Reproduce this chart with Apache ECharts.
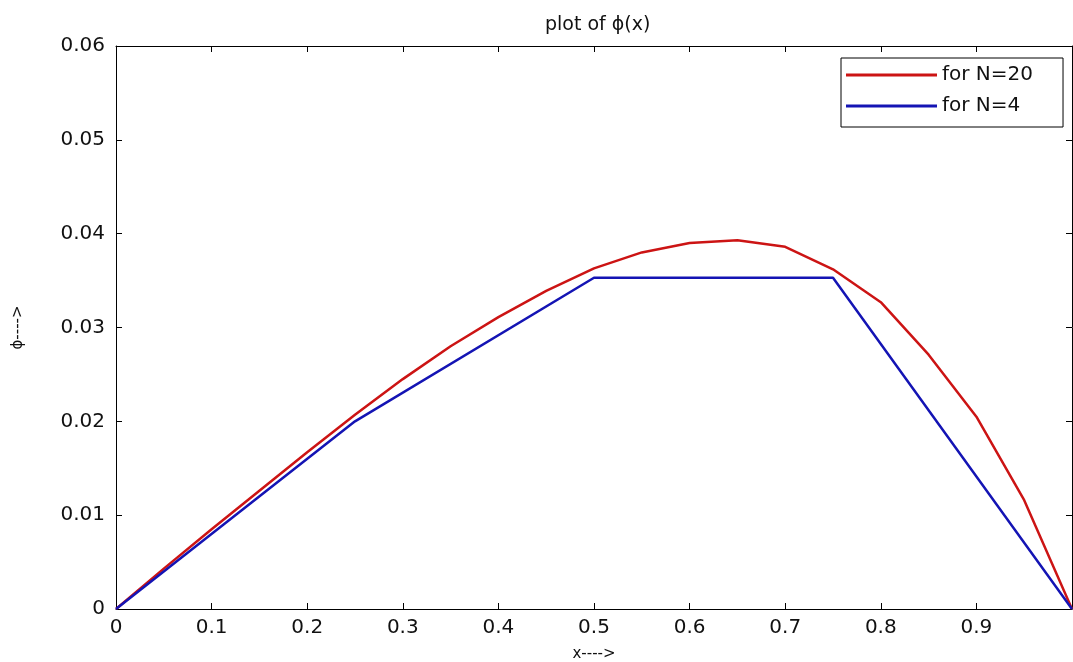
<!DOCTYPE html>
<html>
<head>
<meta charset="utf-8">
<script src="https://cdn.jsdelivr.net/npm/echarts@6/dist/echarts.min.js"></script>
<style>html,body{margin:0;padding:0;background:#fff}#chart{width:1073px;height:662px}</style>
</head>
<body>
<div id="chart"></div>
<script>
// phi(x) for N=20 (step 0.05) and N=4 (step 0.25)
const xN20 = [0, 0.05, 0.1, 0.15, 0.2, 0.25, 0.3, 0.35, 0.4, 0.45, 0.5, 0.55, 0.6, 0.65, 0.7, 0.75, 0.8, 0.85, 0.9, 0.95, 1]
const yN20 = [0, 0.0043, 0.0085, 0.0126, 0.0167, 0.0207, 0.0245, 0.0280, 0.0311, 0.0339, 0.0363, 0.0380, 0.0390, 0.0393, 0.0386, 0.0362, 0.0327, 0.0271, 0.0205, 0.0116, 0]
const xN4 = [0, 0.25, 0.5, 0.75, 1]
const yN4 = [0, 0.0200, 0.0353, 0.0353, 0]
const seriesNames = ['for N=20', 'for N=4']

const font = 'DejaVu Sans'
const chart = echarts.init(document.getElementById('chart'))
const pairs = (xs, ys) => xs.map((x, i) => [x, ys[i]])
const frameAxis = { show: true, onZero: false, lineStyle: { color: '#000', width: 1 } }
const inTick = { show: true, inside: true, length: 6, lineStyle: { color: '#000' } }

chart.setOption({
  animation: false,
  backgroundColor: '#fff',
  title: {
    text: 'plot of ϕ(x)', left: 540, top: 11,
    textStyle: { fontFamily: font, fontSize: 19, fontWeight: 'normal', color: '#111' }
  },
  grid: { left: 116, right: 1, top: 46, bottom: 53, outerBoundsMode: 'none' },
  legend: {
    orient: 'vertical', left: 841, top: 58,
    data: seriesNames,
    icon: 'rect', itemWidth: 91, itemHeight: 3, itemGap: 11, itemTextGap: 7,
    padding: [7, 30, 11, 5],
    borderColor: '#000', borderWidth: 1, backgroundColor: '#fff',
    textStyle: { fontFamily: font, fontSize: 20, color: '#111', lineHeight: 20 }
  },
  xAxis: [{
    type: 'value', min: 0, max: 1, interval: 0.1,
    name: 'x---->', nameLocation: 'middle', nameGap: 38,
    nameTextStyle: { fontFamily: font, fontSize: 15, color: '#111' },
    axisLine: frameAxis, axisTick: inTick, splitLine: { show: false },
    axisLabel: { fontFamily: font, fontSize: 20, color: '#111', margin: 9, showMaxLabel: false }
  }, {
    type: 'value', min: 0, max: 1, interval: 0.1, position: 'top',
    axisLine: frameAxis, axisTick: inTick, splitLine: { show: false }, axisLabel: { show: false }
  }],
  yAxis: [{
    type: 'value', min: 0, max: 0.06, interval: 0.01,
    name: 'ϕ---->', nameLocation: 'middle', nameGap: 90, nameRotate: 90,
    nameTextStyle: { fontFamily: font, fontSize: 15, color: '#111' },
    axisLine: frameAxis, axisTick: inTick, splitLine: { show: false },
    axisLabel: { fontFamily: font, fontSize: 20, color: '#111', margin: 11 }
  }, {
    type: 'value', min: 0, max: 0.06, interval: 0.01, position: 'right',
    axisLine: frameAxis, axisTick: inTick, splitLine: { show: false }, axisLabel: { show: false }
  }],
  series: [
    { name: seriesNames[0], type: 'line', data: pairs(xN20, yN20), showSymbol: false,
      color: '#cc1414', lineStyle: { width: 2.5 } },
    { name: seriesNames[1], type: 'line', data: pairs(xN4, yN4), showSymbol: false,
      color: '#1414b4', lineStyle: { width: 2.5 } }
  ]
})
</script>
</body>
</html>
